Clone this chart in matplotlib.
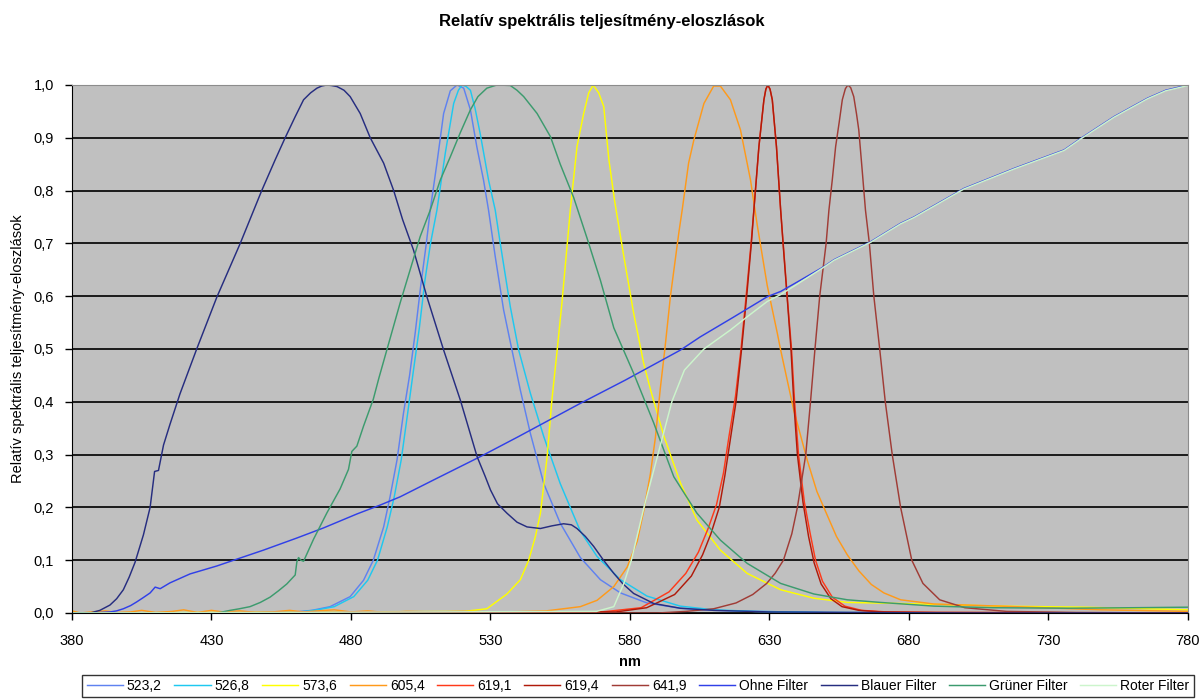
#!/usr/bin/env python

# Relative spectral power distributions of LEDs and filters
import matplotlib
matplotlib.use("Agg")
import matplotlib.pyplot as plt
from matplotlib.ticker import FuncFormatter, MultipleLocator

plt.rcParams["font.family"] = ["Liberation Sans", "DejaVu Sans"]

# LED 523,2
wl_5232 = [380, 440, 460, 466, 472.5, 479.7, 484.5, 488, 491.7, 494, 496.5, 498.8, 501, 503, 505, 507,
           508.4, 510.8, 513.2, 515.6, 518, 520.4, 522.8, 525.1, 527.5, 529.3, 531.7, 534.7, 537.7,
           540.7, 544.3, 549.1, 555, 562.2, 569.4, 576.6, 586.1, 598, 610, 625, 650, 700, 780]
v_5232 = [0, 0, 0.002, 0.005, 0.012, 0.031, 0.062, 0.10, 0.163, 0.22, 0.29, 0.378, 0.45, 0.53, 0.62, 0.70,
          0.763, 0.852, 0.946, 0.989, 1.0, 0.994, 0.953, 0.883, 0.82, 0.763, 0.675, 0.574, 0.498,
          0.422, 0.34, 0.245, 0.17, 0.105, 0.063, 0.038, 0.019, 0.009, 0.005, 0.003, 0.001, 0, 0]

# LED 526,8
wl_5268 = [380, 442, 462, 468, 474, 481, 486, 489.5, 493, 495.5, 498, 500.3, 502.4, 504.5, 506.5, 508.5,
           510.8, 513.8, 516.8, 518.5, 519.8, 521.3, 522.8, 524.5, 526.3, 529.3, 531.7, 533.5, 535.3,
           537.1, 540.1, 544.3, 549.1, 555, 562.2, 568.2, 576.6, 586.1, 598, 610, 625, 650, 700, 780]
v_5268 = [0, 0, 0.002, 0.006, 0.012, 0.031, 0.062, 0.10, 0.163, 0.22, 0.29, 0.378, 0.46, 0.54, 0.63, 0.70,
          0.763, 0.871, 0.965, 0.99, 1.0, 0.997, 0.99, 0.955, 0.908, 0.82, 0.763, 0.70, 0.64,
          0.58, 0.498, 0.416, 0.334, 0.245, 0.155, 0.107, 0.063, 0.032, 0.013, 0.006, 0.003, 0.001, 0, 0]

# LED 573,6
wl_5736 = [380, 520.4, 528.7, 535.9, 540.7, 543.7, 546.1, 547.9, 550.3, 552, 553.9, 555.6, 558.6, 561,
           563.4, 565.2, 566.8, 568.8, 570.6, 572.4, 574.5, 577.8, 581.3, 584.9, 587.4, 592.2, 598.1,
           604, 612.4, 622, 634, 645.9, 657.9, 677, 712.9, 742.6, 780]
v_5736 = [0, 0.003, 0.008, 0.036, 0.063, 0.1, 0.145, 0.189, 0.296, 0.403, 0.498, 0.587, 0.763, 0.883,
          0.946, 0.985, 1.0, 0.985, 0.959, 0.86, 0.78, 0.675, 0.568, 0.473, 0.422, 0.334, 0.246,
          0.176, 0.119, 0.075, 0.044, 0.028, 0.02, 0.018, 0.013, 0.011, 0.006]

# LED 605,4 (noisy baseline at short wavelengths)
wl_6054 = [380, 383, 387, 392, 396, 401, 405, 410, 416, 420, 425, 430, 434, 440, 446, 452, 458, 463, 468,
           474, 480, 486, 492, 500, 510, 520, 535, 550, 562.2, 568.2, 574.2, 579, 582.6, 584.9, 587.3,
           589.1, 590.9, 592.5, 594.5, 597.5, 598.7, 601, 602.9, 606.5, 610, 612.4, 616, 619.6, 623.2,
           625.6, 629.2, 632.8, 634, 638.7, 643.5, 647, 650.7, 654, 657.9, 662, 666.5, 671, 677, 689,
           712.8, 748.7, 780]
v_6054 = [0.004, 0.0, 0.002, 0.004, 0.001, 0.002, 0.005, 0.001, 0.003, 0.006, 0.001, 0.005, 0.002, 0.004,
          0.001, 0.002, 0.005, 0.002, 0.004, 0.006, 0.002, 0.004, 0.001, 0.003, 0.002, 0.003, 0.002,
          0.004, 0.012, 0.024, 0.05, 0.087, 0.136, 0.193, 0.263, 0.332, 0.427, 0.5, 0.6, 0.72, 0.763,
          0.852, 0.896, 0.965, 0.998, 0.998, 0.972, 0.915, 0.82, 0.735, 0.62, 0.53, 0.498, 0.384, 0.29,
          0.23, 0.185, 0.145, 0.11, 0.08, 0.054, 0.038, 0.025, 0.017, 0.013, 0.006, 0.003]

# LED 619,1
wl_6191 = [380, 570, 584, 594, 600, 604.5, 608, 611, 613.5, 615.5, 617.8, 619.8, 621.8, 623.4, 624.4,
           626.2, 628, 628.7, 629.4, 630.2, 631, 632.5, 634, 635.2, 636.5, 637.9, 639, 640.4, 642.5,
           644.6, 646.5, 649, 652.5, 657, 663, 672, 690, 780]
v_6191 = [0, 0.002, 0.01, 0.04, 0.075, 0.115, 0.16, 0.205, 0.265, 0.335, 0.41, 0.5, 0.61, 0.70, 0.763,
          0.883, 0.972, 0.992, 1.0, 0.992, 0.972, 0.883, 0.763, 0.68, 0.59, 0.50, 0.40, 0.30, 0.21,
          0.15, 0.10, 0.06, 0.03, 0.013, 0.005, 0.002, 0.001, 0]

# LED 619,4
wl_6194 = [380, 575, 586, 596, 602, 606, 609, 612, 614, 616, 618, 620, 622, 623.5, 624.4, 626.2, 628,
           628.7, 629.4, 630.2, 631, 632.5, 634, 635, 636.3, 637.7, 638.7, 640, 642, 644, 646, 648.5,
           652, 656, 662, 670, 690, 780]
v_6194 = [0, 0.002, 0.01, 0.035, 0.07, 0.11, 0.15, 0.2, 0.26, 0.33, 0.40, 0.50, 0.61, 0.70, 0.763,
          0.883, 0.972, 0.992, 1.0, 0.992, 0.972, 0.883, 0.763, 0.69, 0.60, 0.50, 0.40, 0.30, 0.21,
          0.145, 0.095, 0.055, 0.027, 0.012, 0.005, 0.002, 0.001, 0]

# LED 641,9
wl_6419 = [380, 590, 600, 610, 618, 624, 629, 632, 635, 638, 640, 643, 644.7, 646.3, 648, 650.3, 651.3,
           652.5, 653.7, 655, 656.1, 657.2, 658.1, 659.1, 660.2, 661.2, 662, 663.2, 664.4, 665.8, 667.4,
           669.5, 671.5, 674, 677, 681, 685, 691, 700, 715, 740, 780]
v_6419 = [0, 0, 0.003, 0.008, 0.019, 0.035, 0.056, 0.075, 0.10, 0.15, 0.20, 0.30, 0.40, 0.50, 0.60, 0.70,
          0.763, 0.82, 0.883, 0.93, 0.972, 0.993, 1.0, 0.995, 0.978, 0.945, 0.915, 0.84, 0.763, 0.70,
          0.60, 0.50, 0.40, 0.30, 0.20, 0.10, 0.056, 0.025, 0.01, 0.003, 0.001, 0]

# lamp without filter
wl_ohne = [380, 386.5, 390, 393.6, 396, 398.4, 401, 403.2, 405.5, 408, 409.8, 411.6, 415.1, 422.3, 431.9,
           439.1, 448.6, 460.6, 470.1, 482.1, 490.5, 497.6, 510, 526.3, 540, 562.2, 578.3, 598.1, 605.2,
           617, 629.2, 634, 640, 649.5, 653.1, 666.2, 677, 681.8, 699.7, 717.7, 735.6, 741.6, 753.5,
           765.5, 772, 780]
v_ohne = [0, 0, 0.001, 0.002, 0.004, 0.008, 0.014, 0.021, 0.029, 0.038, 0.049, 0.046, 0.057, 0.074, 0.089,
          0.102, 0.119, 0.142, 0.161, 0.1875, 0.2045, 0.22, 0.253, 0.296, 0.334, 0.397, 0.441, 0.498, 0.523,
          0.56, 0.599, 0.609, 0.627, 0.656, 0.669, 0.703, 0.738, 0.75, 0.804, 0.842, 0.877, 0.899, 0.94,
          0.975, 0.99, 1.0]

# blue filter
wl_blau = [380, 386.5, 390, 393.6, 396, 398.4, 400.5, 402.6, 405.6, 408, 409.6, 411, 412.8, 415.1, 418.7,
           424.7, 431.9, 440.3, 448, 452.8, 456.4, 460, 463, 465.5, 467.8, 469.5, 471.3, 473, 475, 477.5,
           479.7, 483.3, 486.9, 491.7, 495.3, 498.5, 502.4, 507.2, 513.2, 519.2, 525.2, 528, 530, 532.5,
           535.9, 539.5, 543.1, 547.9, 552, 556.2, 559, 561, 564, 567, 570.5, 574.2, 577.5, 581.3, 588.5,
           598, 610, 630, 660, 700, 780]
v_blau = [0, 0, 0.005, 0.015, 0.027, 0.044, 0.068, 0.096, 0.148, 0.2, 0.268, 0.27, 0.318, 0.357, 0.415,
          0.5, 0.598, 0.70, 0.80, 0.858, 0.90, 0.94, 0.972, 0.985, 0.994, 0.998, 1.0, 0.999, 0.997, 0.99,
          0.978, 0.946, 0.90, 0.852, 0.80, 0.745, 0.6875, 0.599, 0.498, 0.403, 0.296, 0.26, 0.233, 0.207,
          0.189, 0.172, 0.163, 0.160, 0.165, 0.169, 0.167, 0.16, 0.145, 0.126, 0.10, 0.075, 0.055, 0.037,
          0.018, 0.009, 0.005, 0.002, 0.001, 0, 0]

# green filter
wl_gruen = [380, 432, 436.7, 440, 443.8, 447.5, 451, 454, 457, 460, 460.6, 461.2, 462, 463, 466.6, 471.4,
            476.1, 479.1, 480.3, 482.1, 484.5, 488, 490, 497.6, 504.8, 508.4, 512, 515.6, 519.2, 522.8,
            525.5, 528.7, 532.3, 537.1, 539.5, 541.9, 546.7, 551.5, 555, 559.8, 564.6, 569.4, 574.2,
            581.3, 588.5, 595.7, 604, 612.4, 622, 634, 645.9, 657.9, 669.8, 689, 710, 736.8, 760, 780]
v_gruen = [0, 0, 0.005, 0.008, 0.012, 0.02, 0.03, 0.042, 0.055, 0.072, 0.097, 0.105, 0.1, 0.098, 0.14,
           0.19, 0.235, 0.272, 0.306, 0.316, 0.354, 0.405, 0.445, 0.587, 0.713, 0.763, 0.82, 0.864, 0.91,
           0.953, 0.978, 0.994, 1.0, 0.999, 0.99, 0.978, 0.946, 0.902, 0.85, 0.787, 0.71, 0.63, 0.54,
           0.454, 0.36, 0.258, 0.189, 0.138, 0.094, 0.056, 0.036, 0.025, 0.02, 0.013, 0.01, 0.009, 0.01,
           0.011]

# red filter
wl_rot = [380, 568, 574.2, 577.8, 580.5, 585, 590, 595, 599.5, 606.5, 616, 622, 629.2, 634, 640, 649.5,
          653.1, 666.2, 677, 681.8, 699.7, 717.7, 735.6, 741.6, 753.5, 765.5, 772, 780]
v_rot = [0, 0.003, 0.012, 0.056, 0.1, 0.2, 0.3, 0.4, 0.46, 0.5, 0.536, 0.561, 0.59, 0.603, 0.623, 0.655,
         0.668, 0.702, 0.737, 0.749, 0.803, 0.841, 0.876, 0.898, 0.939, 0.974, 0.989, 0.999]

series = [
    ("523,2", wl_5232, v_5232, "#5f82f0"),
    ("526,8", wl_5268, v_5268, "#1ec8f0"),
    ("573,6", wl_5736, v_5736, "#ffff00"),
    ("605,4", wl_6054, v_6054, "#ff9a1a"),
    ("619,1", wl_6191, v_6191, "#ff3a1a"),
    ("619,4", wl_6194, v_6194, "#b01a0a"),
    ("641,9", wl_6419, v_6419, "#a03c36"),
    ("Ohne Filter", wl_ohne, v_ohne, "#3040e8"),
    ("Blauer Filter", wl_blau, v_blau, "#262d80"),
    ("Grüner Filter", wl_gruen, v_gruen, "#3c9b6e"),
    ("Roter Filter", wl_rot, v_rot, "#ccf5cc"),
]

fig = plt.figure(figsize=(12.04, 7.0), dpi=100)
ax = fig.add_axes([0.0598, 0.1243, 0.9269, 0.7543])
ax.set_facecolor("#c0c0c0")

for name, wl, vals, col in series:
    ax.plot(wl, vals, color=col, linewidth=1.05, label=name, solid_joinstyle="round")

ax.set_xlim(380, 780)
ax.set_ylim(0, 1.0)
ax.set_xticks(range(380, 781, 50))
ax.yaxis.set_major_locator(MultipleLocator(0.1))
ax.yaxis.set_major_formatter(FuncFormatter(lambda v, p: ("%.1f" % v).replace(".", ",")))
ax.grid(axis="y", color="#1a1a1a", linewidth=1.4)
ax.set_axisbelow(True)
ax.tick_params(direction="out", length=5, width=1, labelsize=10.5, colors="black")
ax.tick_params(axis="x", pad=10)
ax.tick_params(axis="y", pad=8)

for side in ["top", "right"]:
    ax.spines[side].set_color("#8c8c8c")
for side in ["left", "bottom"]:
    ax.spines[side].set_color("black")

ax.set_xlabel("nm", fontsize=10.5, fontweight="bold", labelpad=5)
ax.set_ylabel("Relatív spektrális teljesítmény-eloszlások", fontsize=10.5, labelpad=6)
fig.suptitle("Relatív spektrális teljesítmény-eloszlások", fontsize=12, fontweight="bold", y=0.98)

leg = fig.legend(loc="lower center", bbox_to_anchor=(0.530, -0.006), ncol=11, fontsize=10,
                 frameon=True, fancybox=False, edgecolor="black", handlelength=2.6,
                 handletextpad=0.3, columnspacing=0.9, borderpad=0.3)
leg.get_frame().set_linewidth(1.0)

fig.savefig("out.png", dpi=100)
